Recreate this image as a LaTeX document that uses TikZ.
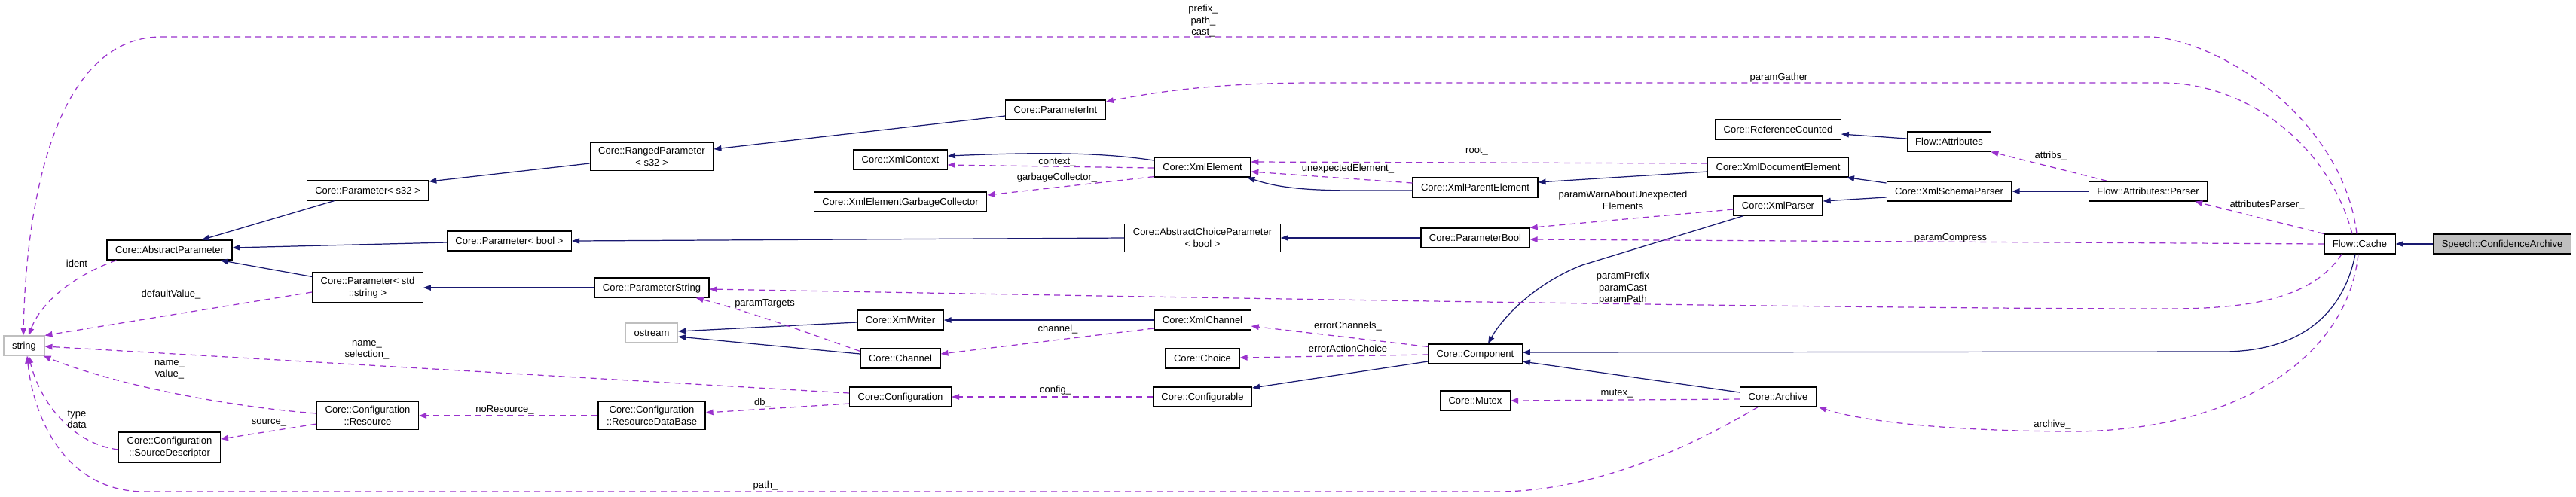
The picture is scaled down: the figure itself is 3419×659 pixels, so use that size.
\documentclass[tikz,border=0pt]{standalone}
\usepackage{fontspec}
\setmainfont{Liberation Sans}
\usetikzlibrary{arrows.meta,calc}
\definecolor{inhBlue}{HTML}{191970}
\definecolor{usePurple}{HTML}{9A32CD}
\newcommand{\doxfont}{\fontsize{3.7pt}{4.4pt}\selectfont}
\tikzset{
  cls/.style={draw=black, line width=0.35pt, fill=white, font=\doxfont,
    inner xsep=1.1mm, inner ysep=0pt, minimum height=2.6mm,
    text height=3.3pt, text depth=0.7pt},
  clsTwo/.style={draw=black, line width=0.35pt, fill=white, font=\doxfont,
    align=center, inner xsep=1.1mm, inner ysep=0.62mm},
  extCls/.style={cls, draw=gray!50},
  selCls/.style={cls, fill=gray!50},
  inhEdge/.style={draw=inhBlue, line width=0.35pt,
    -{Triangle[length=1mm,width=0.75mm]}},
  usesEdge/.style={draw=usePurple, line width=0.35pt,
    dash pattern=on 0.8mm off 0.6mm, -{Triangle[length=1mm,width=0.75mm]}},
  lbl/.style={font=\doxfont, align=center, inner sep=0pt}
}
\begin{document}
\begin{tikzpicture}[x=0.1mm, y=-0.1mm]
  \useasboundingbox (0,0) rectangle (3419,659);
  % classes, from left to right
  \node[extCls] (str) at (32,459) {string};
  \node[cls] (absP) at (225,332) {Core::AbstractParameter};
  \node[clsTwo] (srcDesc) at (225,594) {Core::Configuration\\::SourceDescriptor};
  \node[cls] (parS32) at (488,253) {Core::Parameter< s32 >};
  \node[clsTwo] (parStd) at (488,382) {Core::Parameter< std\\::string >};
  \node[clsTwo] (res) at (488,552) {Core::Configuration\\::Resource};
  \node[cls] (parBool) at (676,320) {Core::Parameter< bool >};
  \node[clsTwo] (rngP) at (865,208) {Core::RangedParameter\\< s32 >};
  \node[cls] (parStr) at (865,382) {Core::ParameterString};
  \node[extCls] (ostr) at (865,442) {ostream};
  \node[clsTwo] (resDB) at (865,552) {Core::Configuration\\::ResourceDataBase};
  \node[cls] (xmlCtx) at (1195,212) {Core::XmlContext};
  \node[cls] (xmlGC) at (1195,268) {Core::XmlElementGarbageCollector};
  \node[cls] (xmlWriter) at (1195,425) {Core::XmlWriter};
  \node[cls] (channel) at (1195,476) {Core::Channel};
  \node[cls] (config) at (1195,527) {Core::Configuration};
  \node[cls] (parInt) at (1401,146) {Core::ParameterInt};
  \node[cls] (xmlEl) at (1596,222) {Core::XmlElement};
  \node[clsTwo] (absChoice) at (1596,316) {Core::AbstractChoiceParameter\\< bool >};
  \node[cls] (xmlChan) at (1596,425) {Core::XmlChannel};
  \node[cls] (choice) at (1596,476) {Core::Choice};
  \node[cls] (configurable) at (1596,527) {Core::Configurable};
  \node[cls] (xmlPar) at (1958,249) {Core::XmlParentElement};
  \node[cls] (parBoolC) at (1958,316) {Core::ParameterBool};
  \node[cls] (comp) at (1958,470) {Core::Component};
  \node[cls] (mutex) at (1958,532) {Core::Mutex};
  \node[cls] (refCnt) at (2360,172) {Core::ReferenceCounted};
  \node[cls] (xmlDoc) at (2360,222) {Core::XmlDocumentElement};
  \node[cls] (xmlParser) at (2360,273) {Core::XmlParser};
  \node[cls] (archive) at (2360,527) {Core::Archive};
  \node[cls] (attr) at (2587,188) {Flow::Attributes};
  \node[cls] (schema) at (2587,254) {Core::XmlSchemaParser};
  \node[cls] (attrParser) at (2851,254) {Flow::Attributes::Parser};
  \node[cls] (cache) at (3132,324) {Flow::Cache};
  \node[selCls] (speech) at (3321,324) {Speech::ConfidenceArchive};

  % inheritance
  \draw[inhEdge] (speech.west) -- (cache.east);
  \draw[inhEdge] ($(cache.south)+(-6,0)$) .. controls (3112,410) and (3060,467) .. (2950,467) -- ($(comp.east)+(0,-2)$);
  \draw[inhEdge] ($(archive.west)+(0,-6)$) -- ($(comp.east)+(0,10)$);
  \draw[inhEdge] ($(xmlParser.south)+(-46,0)$) -- (2100,352) .. controls (2040,375) and (1995,420) .. ($(comp.north)+(17,0)$);
  \draw[inhEdge] ($(comp.west)+(0,10)$) -- ($(configurable.east)+(0,-12)$);
  \draw[inhEdge] ($(schema.west)+(0,-11)$) -- ($(xmlDoc.south east)+(-3,0)$);
  \draw[inhEdge] ($(schema.west)+(0,8)$) -- ($(xmlParser.east)+(0,-6)$);
  \draw[inhEdge] (attrParser.west) -- (schema.east);
  \draw[inhEdge] ($(attr.west)+(0,-4)$) -- ($(refCnt.east)+(0,6)$);
  \draw[inhEdge] ($(xmlDoc.west)+(0,6)$) -- ($(xmlPar.east)+(0,-7)$);
  \draw[inhEdge] ($(xmlPar.west)+(0,4)$) -- (1800,253) .. controls (1720,253) and (1690,247) .. ($(xmlEl.south east)+(-5,0)$);
  \draw[inhEdge] ($(xmlEl.west)+(0,-9)$) .. controls (1460,202) and (1380,202) .. ($(xmlCtx.east)+(0,-5)$);
  \draw[inhEdge] ($(parInt.west)+(0,8)$) -- ($(rngP.east)+(0,-10)$);
  \draw[inhEdge] ($(rngP.west)+(0,9)$) -- ($(parS32.east)+(0,-12)$);
  \draw[inhEdge] ($(parS32.south west)+(37,0)$) -- ($(absP.north)+(43,0)$);
  \draw[inhEdge] ($(parBool.west)+(0,2)$) -- ($(absP.east)+(0,-3)$);
  \draw[inhEdge] ($(parStd.north west)+(0,6)$) -- ($(absP.south east)+(-16,0)$);
  \draw[inhEdge] (absChoice.west) -- (parBool.east);
  \draw[inhEdge] (parBoolC.west) -- (absChoice.east);
  \draw[inhEdge] (parStr.west) -- (parStd.east);
  \draw[inhEdge] ($(xmlWriter.west)+(0,3)$) -- ($(ostr.east)+(0,-2)$);
  \draw[inhEdge] ($(channel.west)+(0,-6)$) -- ($(ostr.east)+(0,5)$);
  \draw[inhEdge] (xmlChan.west) -- (xmlWriter.east);

  % usage
  \draw[usesEdge] ($(cache.north)+(-4,0)$) .. controls (3110,160) and (2950,55) .. (2856,49) -- (214,49) .. controls (80,49) and (35,250) .. ($(str.north)+(-1,0)$);
  \draw[usesEdge] ($(cache.north)+(-10,0)$) .. controls (3090,190) and (2980,110) .. (2870,110) -- (1745,110) .. controls (1600,110) and (1520,125) .. ($(parInt.east)+(0,-11)$);
  \draw[usesEdge] (cache.north west) -- ($(attrParser.south east)+(-17,0)$);
  \draw[usesEdge] (cache.west) -- ($(parBoolC.east)+(0,2)$);
  \draw[usesEdge] ($(cache.south)+(-24,0)$) .. controls (3070,395) and (2990,410) .. (2880,410) .. controls (2400,410) and (1400,392) .. ($(parStr.east)+(0,2)$);
  \draw[usesEdge] ($(cache.south)+(-2,0)$) .. controls (3115,480) and (2960,575) .. (2740,573) .. controls (2600,572) and (2480,562) .. ($(archive.south east)+(3,0)$);
  \draw[usesEdge] ($(attrParser.north west)+(25,0)$) -- ($(attr.south east)+(-1,0)$);
  \draw[usesEdge] ($(xmlParser.west)+(0,5)$) -- (parBoolC.north east);
  \draw[usesEdge] ($(xmlDoc.west)+(0,-5)$) -- ($(xmlEl.east)+(0,-7)$);
  \draw[usesEdge] ($(xmlPar.west)+(0,-6)$) -- ($(xmlEl.east)+(0,6)$);
  \draw[usesEdge] ($(xmlEl.west)+(0,1)$) -- ($(xmlCtx.east)+(0,7)$);
  \draw[usesEdge] ($(xmlEl.south west)+(0,-1)$) -- ($(xmlGC.east)+(0,-9)$);
  \draw[usesEdge] ($(xmlChan.west)+(0,11)$) -- ($(channel.east)+(0,-6)$);
  \draw[usesEdge] ($(comp.north west)+(0,4)$) -- ($(xmlChan.east)+(0,8)$);
  \draw[usesEdge] ($(comp.west)+(0,1)$) -- ($(choice.east)+(0,-1)$);
  \draw[usesEdge] ($(archive.west)+(0,3)$) -- (mutex.east);
  \draw[usesEdge] (configurable.west) -- (config.east);
  \draw[usesEdge] ($(config.west)+(0,9)$) -- ($(resDB.east)+(0,-4)$);
  \draw[usesEdge] ($(config.west)+(0,-5)$) -- ($(str.east)+(0,1)$);
  \draw[usesEdge] (resDB.west) -- (res.east);
  \draw[usesEdge] ($(res.west)+(0,-3)$) .. controls (300,540) and (150,510) .. ($(str.south east)+(-2,0)$);
  \draw[usesEdge] ($(res.west)+(0,11)$) -- ($(srcDesc.east)+(0,-11)$);
  \draw[usesEdge] ($(srcDesc.west)+(0,3)$) .. controls (100,590) and (55,540) .. ($(str.south)+(6,0)$);
  \draw[usesEdge] ($(archive.south west)+(24,0)$) .. controls (2200,620) and (2080,653) .. (1988,653) -- (192,653) .. controls (90,653) and (45,560) .. ($(str.south)+(4,0)$);
  \draw[usesEdge] ($(absP.south west)+(13,0)$) .. controls (100,365) and (55,400) .. ($(str.north)+(6,0)$);
  \draw[usesEdge] ($(parStd.west)+(0,6)$) -- (str.north east);
  \draw[usesEdge] ($(channel.north west)+(0,4)$) .. controls (1080,445) and (1000,415) .. ($(parStr.south east)+(-18,0)$);

  % member names
  \node[lbl] (lCast) at (1597,28) {prefix\_\\path\_\\cast\_};
  \node[lbl] (lGather) at (2361,103) {paramGather};
  \node[lbl] (lAttrP) at (3009,272) {attributesParser\_};
  \node[lbl] (lAttribs) at (2722,207) {attribs\_};
  \node[lbl] (lCompress) at (2589,316) {paramCompress};
  \node[lbl] (lPrefix) at (2154,383) {paramPrefix\\paramCast\\paramPath};
  \node[lbl] (lArchive) at (2724,564) {archive\_};
  \node[lbl] (lWarn) at (2154,266) {paramWarnAboutUnexpected\\Elements};
  \node[lbl] (lRoot) at (1960,201) {root\_};
  \node[lbl] (lUnexp) at (1789,224) {unexpectedElement\_};
  \node[lbl] (lContext) at (1403,216) {context\_};
  \node[lbl] (lGarbage) at (1403,236) {garbageCollector\_};
  \node[lbl] (lChannel) at (1404,437) {channel\_};
  \node[lbl] (lErrCh) at (1789,433) {errorChannels\_};
  \node[lbl] (lErrAct) at (1789,463) {errorActionChoice};
  \node[lbl] (lConfig) at (1401,518) {config\_};
  \node[lbl] (lDb) at (1012,535) {db\_};
  \node[lbl] (lMutex) at (2146,523) {mutex\_};
  \node[lbl] (lNameSel) at (487,465) {name\_\\selection\_};
  \node[lbl] (lNoRes) at (670,544) {noResource\_};
  \node[lbl] (lNameVal) at (225,491) {name\_\\value\_};
  \node[lbl] (lSource) at (357,561) {source\_};
  \node[lbl] (lTypeData) at (102,557) {type\\data};
  \node[lbl] (lPath) at (1016,645) {path\_};
  \node[lbl] (lIdent) at (102,350) {ident};
  \node[lbl] (lDefault) at (227,391) {defaultValue\_};
  \node[lbl] (lTargets) at (1015,403) {paramTargets};
\end{tikzpicture}
\end{document}
